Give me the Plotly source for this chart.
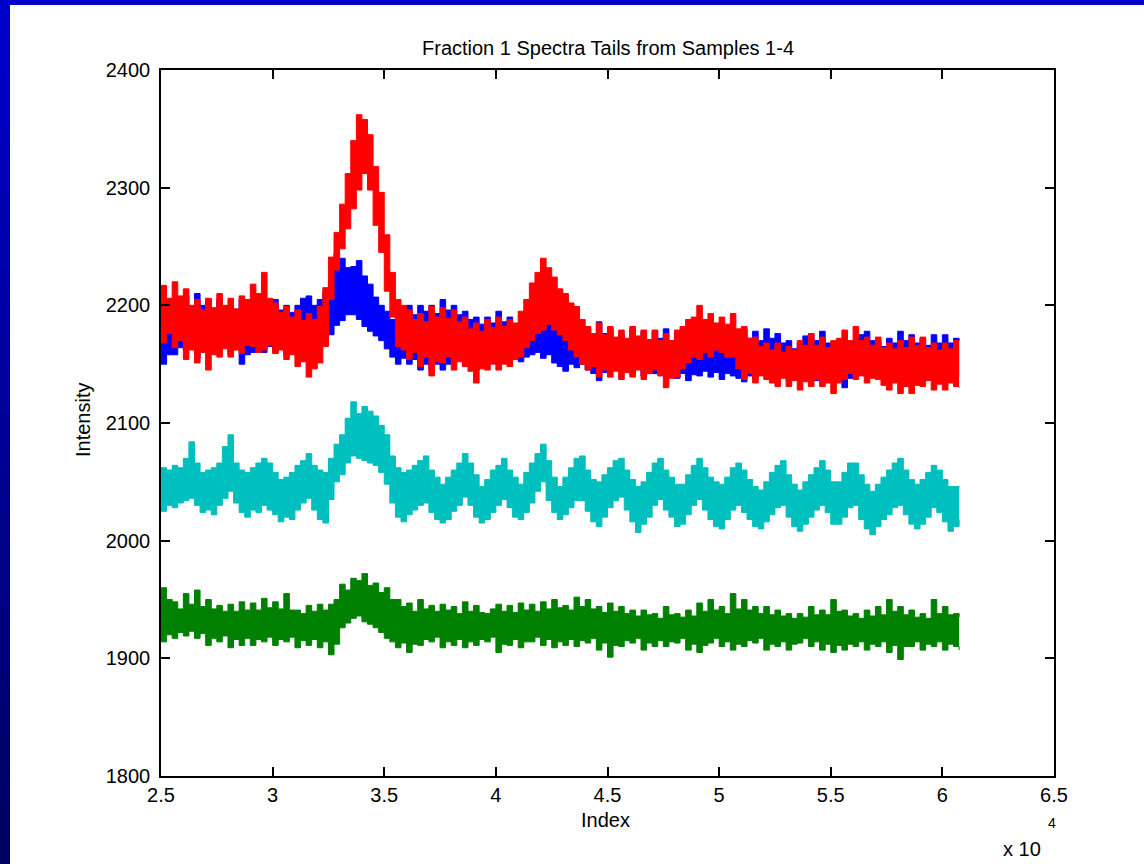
import plotly.graph_objects as go

# ---------------- data ----------------
# sample index (x) at which the envelopes were read
IDX = [25000, 25250, 25500, 25750, 26000, 26250, 26500, 26750, 27000, 27250,
       27500, 27750, 28000, 28250, 28500, 28750, 29000, 29250, 29500, 29750,
       30000, 30250, 30500, 30750, 31000, 31250, 31500, 31750, 32000, 32250,
       32500, 32750, 33000, 33250, 33500, 33750, 34000, 34250, 34500, 34750,
       35000, 35250, 35500, 35750, 36000, 36250, 36500, 36750, 37000, 37250,
       37500, 37750, 38000, 38250, 38500, 38750, 39000, 39250, 39500, 39750,
       40000, 40250, 40500, 40750, 41000, 41250, 41500, 41750, 42000, 42250,
       42500, 42750, 43000, 43250, 43500, 43750, 44000, 44250, 44500, 44750,
       45000, 45250, 45500, 45750, 46000, 46250, 46500, 46750, 47000, 47250,
       47500, 47750, 48000, 48250, 48500, 48750, 49000, 49250, 49500, 49750,
       50000, 50250, 50500, 50750, 51000, 51250, 51500, 51750, 52000, 52250,
       52500, 52750, 53000, 53250, 53500, 53750, 54000, 54250, 54500, 54750,
       55000, 55250, 55500, 55750, 56000, 56250, 56500, 56750, 57000, 57250,
       57500, 57750, 58000, 58250, 58500, 58750, 59000, 59250, 59500, 59750,
       60000, 60250, 60500, 60750]

# Sample 1 (blue): upper / lower edge of the noisy trace
blue_hi = [2200, 2192, 2200, 2194, 2208, 2198, 2210, 2200, 2205, 2196,
           2205, 2197, 2200, 2194, 2205, 2196, 2205, 2198, 2200, 2193,
           2205, 2196, 2200, 2194, 2200, 2206, 2208, 2200, 2205, 2212,
           2222, 2244, 2240, 2232, 2233, 2238, 2225, 2218, 2207, 2200,
           2195, 2188, 2195, 2189, 2200, 2192, 2200, 2195, 2200, 2193,
           2205, 2196, 2200, 2192, 2195, 2188, 2190, 2184, 2190, 2185,
           2195, 2186, 2190, 2182, 2182, 2178, 2185, 2180, 2192, 2184,
           2185, 2178, 2180, 2172, 2175, 2170, 2180, 2175, 2186, 2176,
           2180, 2172, 2175, 2170, 2180, 2172, 2178, 2170, 2178, 2172,
           2180, 2170, 2175, 2166, 2168, 2162, 2170, 2163, 2168, 2162,
           2170, 2164, 2170, 2176, 2180, 2172, 2178, 2170, 2180, 2172,
           2176, 2168, 2170, 2163, 2168, 2174, 2176, 2170, 2178, 2168,
           2168, 2162, 2170, 2164, 2170, 2175, 2178, 2170, 2170, 2165,
           2172, 2168, 2178, 2170, 2175, 2168, 2172, 2166, 2175, 2168,
           2175, 2168, 2172, 2170]
blue_lo = [2150, 2158, 2158, 2164, 2162, 2166, 2155, 2162, 2160, 2165,
           2162, 2166, 2158, 2163, 2150, 2158, 2160, 2164, 2160, 2165,
           2160, 2164, 2158, 2163, 2160, 2165, 2160, 2166, 2165, 2170,
           2175, 2183, 2187, 2192, 2192, 2188, 2182, 2178, 2174, 2170,
           2163, 2156, 2150, 2155, 2150, 2154, 2145, 2150, 2145, 2150,
           2145, 2150, 2155, 2158, 2150, 2154, 2145, 2150, 2150, 2155,
           2155, 2160, 2158, 2155, 2152, 2156, 2158, 2160, 2155, 2158,
           2151, 2148, 2144, 2150, 2147, 2150, 2145, 2142, 2136, 2143,
           2145, 2148, 2145, 2148, 2142, 2146, 2140, 2145, 2142, 2146,
           2140, 2144, 2138, 2142, 2136, 2141, 2140, 2144, 2139, 2143,
           2137, 2142, 2140, 2138, 2135, 2140, 2138, 2142, 2140, 2144,
           2140, 2143, 2136, 2141, 2138, 2142, 2140, 2136, 2132, 2138,
           2135, 2140, 2130, 2138, 2140, 2144, 2142, 2140, 2138, 2143,
           2145, 2148, 2145, 2142, 2140, 2144, 2138, 2142, 2138, 2142,
           2138, 2143, 2140, 2140]

# Sample 2 (green)
green_hi = [1960, 1950, 1948, 1942, 1955, 1946, 1958, 1944, 1950, 1942,
            1945, 1940, 1946, 1940, 1948, 1941, 1947, 1941, 1951, 1943,
            1948, 1942, 1955, 1941, 1941, 1938, 1945, 1940, 1946, 1941,
            1946, 1950, 1963, 1958, 1968, 1966, 1972, 1962, 1964, 1956,
            1960, 1950, 1950, 1944, 1947, 1940, 1950, 1942, 1945, 1940,
            1946, 1941, 1944, 1938, 1948, 1940, 1945, 1939, 1938, 1942,
            1946, 1940, 1945, 1939, 1947, 1941, 1946, 1940, 1948, 1942,
            1950, 1943, 1945, 1941, 1952, 1944, 1950, 1942, 1944, 1939,
            1947, 1940, 1944, 1938, 1941, 1936, 1941, 1937, 1938, 1934,
            1944, 1937, 1938, 1935, 1941, 1936, 1947, 1940, 1950, 1941,
            1944, 1938, 1955, 1942, 1950, 1941, 1944, 1938, 1944, 1937,
            1941, 1936, 1938, 1934, 1938, 1935, 1944, 1937, 1941, 1937,
            1950, 1940, 1941, 1936, 1938, 1934, 1941, 1936, 1944, 1937,
            1950, 1940, 1944, 1937, 1941, 1935, 1938, 1934, 1950, 1938,
            1944, 1937, 1938, 1935]
green_lo = [1914, 1920, 1917, 1922, 1919, 1923, 1917, 1921, 1911, 1917,
            1914, 1919, 1909, 1916, 1911, 1917, 1911, 1916, 1914, 1918,
            1911, 1916, 1914, 1918, 1909, 1915, 1911, 1916, 1909, 1914,
            1903, 1912, 1926, 1930, 1934, 1936, 1931, 1929, 1926, 1922,
            1917, 1914, 1909, 1913, 1905, 1912, 1911, 1916, 1914, 1918,
            1909, 1914, 1911, 1916, 1909, 1914, 1911, 1916, 1914, 1918,
            1905, 1912, 1911, 1916, 1909, 1914, 1914, 1918, 1911, 1916,
            1909, 1914, 1911, 1916, 1910, 1915, 1913, 1917, 1907, 1913,
            1901, 1911, 1910, 1915, 1913, 1917, 1907, 1913, 1910, 1915,
            1910, 1914, 1913, 1917, 1907, 1912, 1905, 1911, 1913, 1917,
            1910, 1914, 1907, 1912, 1910, 1915, 1913, 1917, 1907, 1912,
            1910, 1914, 1907, 1912, 1913, 1917, 1910, 1914, 1907, 1912,
            1905, 1911, 1907, 1912, 1910, 1914, 1907, 1912, 1910, 1914,
            1905, 1911, 1899, 1910, 1910, 1914, 1907, 1912, 1910, 1914,
            1907, 1912, 1910, 1907]

# Sample 3 (red)
red_hi = [2217, 2206, 2220, 2208, 2214, 2200, 2205, 2196, 2206, 2198,
          2210, 2200, 2206, 2197, 2208, 2205, 2218, 2210, 2228, 2206,
          2202, 2194, 2199, 2190, 2196, 2187, 2193, 2188, 2199, 2215,
          2241, 2262, 2286, 2312, 2340, 2362, 2358, 2345, 2318, 2296,
          2260, 2228, 2205, 2200, 2196, 2188, 2193, 2186, 2199, 2190,
          2198, 2189, 2196, 2186, 2190, 2180, 2185, 2178, 2188, 2181,
          2190, 2182, 2188, 2185, 2195, 2205, 2219, 2228, 2240, 2232,
          2224, 2214, 2210, 2202, 2199, 2188, 2182, 2176, 2185, 2175,
          2182, 2173, 2179, 2172, 2182, 2174, 2179, 2171, 2179, 2170,
          2176, 2170, 2179, 2182, 2188, 2190, 2200, 2188, 2193, 2185,
          2190, 2184, 2193, 2180, 2182, 2172, 2173, 2165, 2168, 2162,
          2168, 2160, 2165, 2162, 2170, 2166, 2176, 2166, 2173, 2164,
          2170, 2172, 2179, 2170, 2182, 2170, 2173, 2166, 2173, 2164,
          2168, 2163, 2170, 2164, 2173, 2166, 2173, 2164, 2168, 2162,
          2168, 2163, 2170, 2170]
red_lo = [2168, 2176, 2164, 2170, 2154, 2162, 2151, 2160, 2145, 2158,
          2156, 2163, 2156, 2162, 2159, 2166, 2165, 2160, 2162, 2166,
          2159, 2162, 2154, 2158, 2148, 2152, 2139, 2146, 2151, 2165,
          2205, 2230, 2248, 2265, 2282, 2298, 2312, 2298, 2268, 2245,
          2212, 2190, 2165, 2162, 2154, 2160, 2148, 2156, 2140, 2152,
          2151, 2156, 2145, 2152, 2148, 2144, 2134, 2146, 2145, 2150,
          2145, 2150, 2148, 2154, 2156, 2164, 2170, 2176, 2179, 2184,
          2179, 2175, 2170, 2162, 2156, 2150, 2145, 2148, 2139, 2145,
          2139, 2144, 2137, 2143, 2139, 2145, 2137, 2142, 2145, 2140,
          2130, 2138, 2139, 2146, 2151, 2156, 2154, 2160, 2156, 2162,
          2160, 2156, 2156, 2146, 2137, 2142, 2134, 2140, 2137, 2134,
          2131, 2138, 2131, 2136, 2128, 2135, 2131, 2137, 2131, 2134,
          2125, 2134, 2137, 2142, 2137, 2140, 2134, 2138, 2137, 2132,
          2128, 2134, 2125, 2131, 2125, 2132, 2131, 2136, 2128, 2133,
          2128, 2134, 2131, 2130]

# Sample 4 (cyan)
cyan_hi = [2062, 2060, 2064, 2062, 2070, 2084, 2066, 2058, 2060, 2062,
           2066, 2080, 2090, 2066, 2060, 2058, 2062, 2066, 2070, 2066,
           2058, 2052, 2054, 2058, 2064, 2068, 2074, 2064, 2060, 2058,
           2070, 2082, 2090, 2104, 2118, 2108, 2114, 2110, 2106, 2098,
           2090, 2072, 2062, 2058, 2060, 2064, 2068, 2072, 2060, 2054,
           2048, 2054, 2060, 2066, 2074, 2066, 2056, 2046, 2052, 2060,
           2064, 2070, 2060, 2054, 2048, 2058, 2066, 2074, 2082, 2068,
           2054, 2046, 2054, 2062, 2070, 2072, 2060, 2052, 2050, 2056,
           2062, 2068, 2070, 2060, 2052, 2046, 2050, 2058, 2066, 2070,
           2060, 2054, 2048, 2048, 2056, 2064, 2070, 2062, 2054, 2050,
           2048, 2054, 2062, 2066, 2060, 2052, 2046, 2043, 2050, 2058,
           2064, 2068, 2056, 2048, 2043, 2050, 2056, 2062, 2068, 2060,
           2050, 2050, 2058, 2066, 2066, 2056, 2048, 2042, 2048, 2054,
           2060, 2066, 2070, 2060, 2052, 2048, 2052, 2058, 2064, 2060,
           2052, 2046, 2046, 2045]
cyan_lo = [2025, 2030, 2028, 2032, 2034, 2036, 2030, 2024, 2026, 2022,
           2030, 2036, 2042, 2032, 2024, 2020, 2026, 2024, 2030, 2026,
           2022, 2016, 2020, 2018, 2026, 2032, 2036, 2026, 2018, 2015,
           2035, 2050, 2056, 2066, 2072, 2070, 2068, 2066, 2064, 2058,
           2048, 2032, 2020, 2016, 2022, 2026, 2030, 2032, 2024, 2018,
           2015, 2018, 2025, 2030, 2037, 2030, 2020, 2015, 2018, 2024,
           2030, 2035, 2028, 2020, 2018, 2024, 2032, 2042, 2050, 2034,
           2024, 2018, 2022, 2028, 2034, 2034, 2025, 2016, 2012, 2020,
           2028, 2034, 2037, 2026, 2016, 2007, 2014, 2020, 2030, 2035,
           2026, 2020, 2012, 2014, 2022, 2030, 2035, 2026, 2018, 2012,
           2010, 2018, 2026, 2030, 2024, 2018, 2012, 2010, 2016, 2022,
           2028, 2030, 2020, 2012, 2008, 2014, 2020, 2026, 2030, 2024,
           2014, 2014, 2020, 2028, 2030, 2018, 2010, 2005, 2012, 2018,
           2022, 2028, 2030, 2022, 2014, 2010, 2014, 2020, 2028, 2024,
           2016, 2008, 2012, 2018]

X_TICKS = [25000, 30000, 35000, 40000, 45000, 50000, 55000, 60000, 65000]
X_TICK_TEXT = ["2.5", "3", "3.5", "4", "4.5", "5", "5.5", "6", "6.5"]
Y_TICKS = [1800, 1900, 2000, 2100, 2200, 2300, 2400]

TITLE = "Fraction 1 Spectra Tails from Samples 1-4"
XLABEL = "Index"
YLABEL = "Intensity"

# ---------------- figure ----------------
W, H = 1144, 864
L, R, T, B = 161, 1054, 70, 776  # plot area in pixels
FONT = "Liberation Sans, Arial, Helvetica, sans-serif"


def px(xp):
    return (xp - L) / (R - L)


def py(yp):
    return (B - yp) / (B - T)


fig = go.Figure()

series = [
    ("Sample 1", "#0000FF", blue_hi, blue_lo),
    ("Sample 2", "#008000", green_hi, green_lo),
    ("Sample 3", "#FF0000", red_hi, red_lo),
    ("Sample 4", "#00BFBF", cyan_hi, cyan_lo),
]
for name, color, hi, lo in series:
    fig.add_trace(go.Scatter(x=IDX, y=lo, mode="lines", name=name,
                             line=dict(color=color, width=1, shape="hv"),
                             showlegend=False, hoverinfo="skip"))
    fig.add_trace(go.Scatter(x=IDX, y=hi, mode="lines", name=name,
                             line=dict(color=color, width=1, shape="hv"),
                             fill="tonexty", fillcolor=color,
                             showlegend=False))

axis_common = dict(
    showline=True, linecolor="black", linewidth=1.5, mirror="ticks",
    ticks="inside", ticklen=9, tickwidth=1.5, tickcolor="black",
    showgrid=False, zeroline=False,
    tickfont=dict(family=FONT, size=20, color="black"),
)
fig.update_xaxes(range=[25000, 65000], tickvals=X_TICKS, ticktext=X_TICK_TEXT,
                 ticklabelstandoff=0, **axis_common)
fig.update_yaxes(range=[1800, 2400], tickvals=Y_TICKS,
                 ticklabelstandoff=5, **axis_common)

shapes = []
# blue slide frame: top bar and left gradient bar
shapes.append(dict(type="rect", xref="paper", yref="paper",
                   x0=px(-5), x1=px(W + 5), y0=py(5), y1=py(-5),
                   fillcolor="#0000CC", line=dict(width=0), layer="above"))
N = 48
for i in range(N):
    t = i / (N - 1)
    b = int(round(205 - t * (205 - 95)))
    y_top = i * H / N
    y_bot = (i + 1) * H / N + 1
    shapes.append(dict(type="rect", xref="paper", yref="paper",
                       x0=px(-5), x1=px(10), y0=py(y_bot), y1=py(y_top),
                       fillcolor=f"rgb(0,0,{b})", line=dict(width=0),
                       layer="above"))

annotations = [
    dict(text=TITLE, xref="paper", yref="paper", x=0.5, y=py(48),
         xanchor="center", yanchor="middle", showarrow=False,
         font=dict(family=FONT, size=20, color="black")),
    dict(text=XLABEL, xref="paper", yref="paper", x=px(605), y=py(820),
         xanchor="center", yanchor="middle", showarrow=False,
         font=dict(family=FONT, size=20, color="black")),
    dict(text=YLABEL, xref="paper", yref="paper", x=px(83), y=py(420),
         xanchor="center", yanchor="middle", showarrow=False, textangle=-90,
         font=dict(family=FONT, size=20, color="black")),
    dict(text="x 10", xref="paper", yref="paper", x=px(1043), y=py(849),
         xanchor="right", yanchor="middle", showarrow=False,
         font=dict(family=FONT, size=20, color="black")),
    dict(text="4", xref="paper", yref="paper", x=px(1046), y=py(823),
         xanchor="left", yanchor="middle", showarrow=False,
         font=dict(family=FONT, size=14, color="black")),
]

fig.update_layout(
    width=W, height=H,
    margin=dict(l=L, r=W - R, t=T, b=H - B, pad=0),
    paper_bgcolor="white", plot_bgcolor="white",
    shapes=shapes, annotations=annotations,
    showlegend=False,
)

fig.write_html("out.html")
